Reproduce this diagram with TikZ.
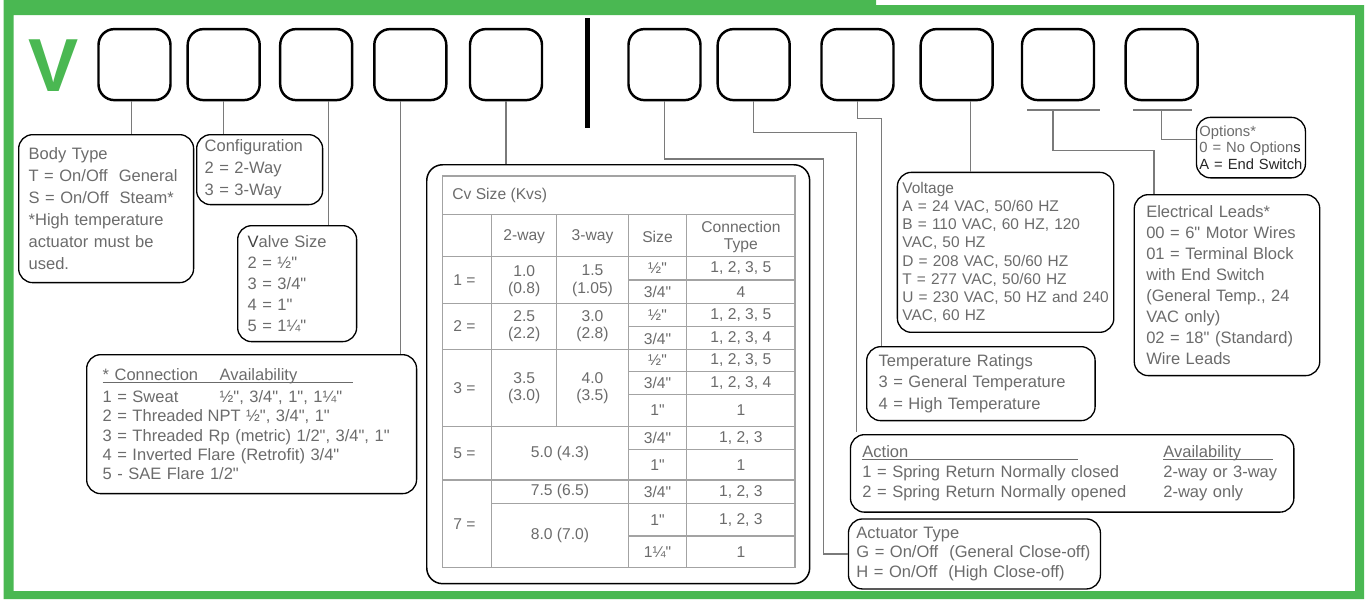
\documentclass[tikz,border=0pt]{standalone}
\usepackage{fontspec}
\defaultfontfeatures[\rmfamily]{}
\setmainfont{Liberation Sans}
\usepackage{xcolor}
\usepackage{tikz}
\definecolor{vgreen}{HTML}{4AB852}
\definecolor{txtgray}{HTML}{6B6B6B}
\definecolor{wiregray}{HTML}{7A7A7A}
\definecolor{tabgray}{HTML}{A3A3A3}
\newcommand\ulbox[2]{\makebox[0pt][l]{\rule[-1.4pt]{#1}{0.45pt}}\makebox[#1][l]{#2}}

\begin{document}
\begin{tikzpicture}[x=0.02cm,y=-0.02cm,
  codebox/.style={draw,line width=1.4pt,rounded corners=9pt,minimum width=1.44cm,minimum height=1.42cm,inner sep=0pt},
  callout/.style={draw,line width=0.75pt,rounded corners=8pt,anchor=north west,align=left,text=txtgray,inner ysep=0pt,font=\fontsize{9.4}{12}\selectfont},
  wire/.style={wiregray,line width=0.7pt},
  tabline/.style={tabgray,line width=0.8pt},
  cell/.style={text=txtgray,font=\fontsize{8.9}{10}\selectfont,inner sep=0pt,align=center}]
\useasboundingbox (0,0) rectangle (1366,599);
\fill[vgreen,even odd rule] (3.5,0) -- (876,0) -- (876,5) -- (1364,5) -- (1364,599) -- (3.5,599) -- cycle
  (13.5,15) rectangle (1355,591);

\node[text=vgreen,font=\fontsize{42.8}{43}\selectfont\bfseries,inner sep=0pt,anchor=base] (vmark) at (53.5,91) {V};
\foreach \n/\x in {1/134.5,2/223.7,3/316.2,4/410.3,5/506,6/664.5,7/753.7,8/857.5,9/956.7,10/1058,11/1161.7}
  \node[codebox] (code\n) at (\x,64.6) {};
\fill (585,18) rectangle (590,128);

\node[callout,text width=3.1cm,inner xsep=0.2cm,minimum height=2.96cm,font=\fontsize{9.4}{12.6}\selectfont] (body) at (18,134)
  {Body Type\\T = On/Off\ \ General\\S = On/Off\ \ Steam*\\{}*High temperature\\actuator must be\\used.};
\node[callout,text width=2.2cm,inner xsep=0.16cm,minimum height=1.4cm,font=\fontsize{9.4}{12.5}\selectfont] (config) at (196,134)
  {Configuration\\2 = 2-Way\\3 = 3-Way};
\node[callout,text width=1.98cm,inner xsep=0.2cm,minimum height=2.32cm,font=\fontsize{9.4}{11.9}\selectfont] (valve) at (237,225)
  {{\color{black!75}V}alve Size\\2 = ½"\\3 = 3/4"\\4 = 1"\\5 = 1¼"};
\node[callout,text width=5.96cm,inner xsep=0.32cm,minimum height=2.78cm,font=\fontsize{9.4}{11}\selectfont] (conn) at (86,354)
  {\ulbox{5cm}{\makebox[2.34cm][l]{* Connection}Availability}\\[1.5pt]
   \makebox[2.34cm][l]{1 = Sweat}½", 3/4", 1", 1¼"\\
   \makebox[2.1cm][l]{2 = Threaded}NPT ½", 3/4", 1"\\
   3 = Threaded Rp (metric) 1/2", 3/4", 1"\\
   4 = Inverted Flare (Retrofit) 3/4"\\
   5 - SAE Flare 1/2"};
\node[callout,text width=4.13cm,inner xsep=0.1cm,minimum height=3.2cm,font=\fontsize{8.8}{10.4}\selectfont] (volt) at (896.7,171.7)
  {Voltage\\A = 24 VAC, 50/60 HZ\\B = 110 VAC, 60 HZ, 120\\VAC, 50 HZ\\D = 208 VAC, 50/60 HZ\\T = 277 VAC, 50/60 HZ\\U = 230 VAC, 50 HZ and 240\\VAC, 60 HZ};
\node[callout,text width=3.23cm,inner xsep=0.24cm,minimum height=3.62cm,font=\fontsize{9.4}{11.9}\selectfont] (elec) at (1133.6,194)
  {Electrical Leads*\\00 = 6" Motor Wires\\01 = Terminal Block\\with End Switch\\(General Temp., 24\\VAC only)\\02 = 18" (Standard)\\Wire Leads};
\node[callout,text width=2.06cm,inner xsep=0.06cm,minimum height=1.21cm,font=\fontsize{8.4}{9.5}\selectfont] (opts) at (1195.8,116.7)
  {Options*\\\mbox{0 = No Option{\color{black!80}s}}\\\mbox{\color{black!85}A = End Switch}};
\node[callout,text width=4.09cm,inner xsep=0.24cm,minimum height=1.48cm,font=\fontsize{9.4}{12.1}\selectfont] (temp) at (866,346)
  {Temperature Ratings\\3 = General Temperature\\4 = High Temperature};
\node[callout,text width=8.39cm,inner xsep=0.24cm,minimum height=1.55cm,font=\fontsize{9.4}{11.5}\selectfont] (action) at (849.8,434)
  {\ulbox{4.31cm}{Action}\hspace{1.71cm}\ulbox{2.19cm}{Availability}\\
   \makebox[6.02cm][l]{1 = Spring Return Normally closed}2-way or 3-way\\
   \makebox[6.02cm][l]{2 = Spring Return Normally opened}2-way only};
\node[callout,text width=4.72cm,inner xsep=0.16cm,minimum height=1.4cm,font=\fontsize{9.4}{11.2}\selectfont] (act) at (847.8,518.3)
  {Actuator Type\\G = On/Off\ \ (General Close-off)\\H = On/Off\ \ (High Close-off)};

\node[draw,line width=0.85pt,rounded corners=9pt,minimum width=7.66cm,minimum height=8.38cm,anchor=north west,inner sep=0pt] (cvbox) at (426,164) {};
\draw[tabline] (442.7,176) rectangle (795,567.7);
\foreach \y in {214.3,256.7,303.3,349.3,426.7,480}
  \draw[tabline] (442.7,\y) -- (795,\y);
\draw[tabline] (491.7,503.3) -- (795,503.3);
\foreach \y in {280,326.7,371.7,394.3,449.3,536}
  \draw[tabline] (628.3,\y) -- (795,\y);
\foreach \x in {491.7,628.3,686.7}
  \draw[tabline] (\x,214.3) -- (\x,567.7);
\draw[tabline] (556.7,214.3) -- (556.7,426.7);

\node[cell,anchor=west] (cvhead) at (452,195) {Cv Size (Kvs)};
\node[cell] (htwo) at (524.2,237) {2-way};
\node[cell] (hthree) at (592.5,237) {3-way};
\node[cell] (hsize) at (657.5,237) {Size};
\node[cell] (htype) at (740.9,237) {Connection\\Type};
\foreach \r/\y in {1/280,2/326.3,3/388,5/453.3,7/523.8}
  \node[cell,anchor=west] (row\r) at (453,\y) {\r\ =};
\foreach \n/\y/\a/\b/\c/\d in {1/281/1.0/(0.8)/1.5/(1.05),2/326.3/2.5/(2.2)/3.0/(2.8),3/388/3.5/(3.0)/4.0/(3.5)}
{\node[cell] (two\n) at (524.2,\y) {\a\\\b};
 \node[cell] (three\n) at (592.5,\y) {\c\\\d};}
\node[cell] (cvfive) at (560,453.3) {5.0 (4.3)};
\node[cell] (cvsevena) at (560,491.7) {7.5 (6.5)};
\node[cell] (cvsevenb) at (560,535.5) {8.0 (7.0)};
\foreach \n/\y/\s/\c in {1/268.3/½"/{1, 2, 3, 5},2/291.7/{3/4"}/4,
  3/315/½"/{1, 2, 3, 5},4/338.5/{3/4"}/{1, 2, 3, 4},
  5/360.5/½"/{1, 2, 3, 5},6/383/{3/4"}/{1, 2, 3, 4},7/410.5/1"/1,
  8/438/{3/4"}/{1, 2, 3},9/464.7/1"/1,
  10/491.7/{3/4"}/{1, 2, 3},11/519.7/1"/{1, 2, 3},12/551.8/1¼"/1}
{\node[cell] (size\n) at (657.5,\y) {\s};
 \node[cell] (type\n) at (740.9,\y) {\c};}

\coordinate (w1) at ([xshift=-0.06cm]code1.south);
\coordinate (w3) at ([xshift=0.24cm]code3.south);
\coordinate (w4) at ([xshift=-0.19cm]code4.south);
\coordinate (w9) at ([xshift=0.27cm]code9.south);
\coordinate (u10) at (1053,110);
\coordinate (u11) at (1161.6,110);
\draw[wire] (w1) -- (w1 |- body.north);
\draw[wire] (code2.south) -- (code2.south |- config.north);
\draw[wire] (w3) -- (w3 |- valve.north);
\draw[wire] (w4) -- (w4 |- conn.north);
\draw[wire] (code5.south) -- (code5.south |- cvbox.north);
\draw[wire] (code6.south) |- (823.3,159) |- (act.west);
\draw[wire,shorten >=1pt] (code7.south) |- (856.7,132.7) -- (856.7,132.7 |- action.north);
\draw[wire] (code8.south) |- (881.7,118.5) -- (881.7,118.5 |- temp.north);
\draw[wire] (w9) -- (w9 |- volt.north);
\draw[wire] (1027,110) -- (1100,110) (1133,110) -- (1191.5,110);
\draw[wire] (u10) |- (1154,150.7) -- (1154,150.7 |- elec.north);
\draw[wire] (u11) |- ([yshift=0.16cm]opts.west);
\end{tikzpicture}
\end{document}
